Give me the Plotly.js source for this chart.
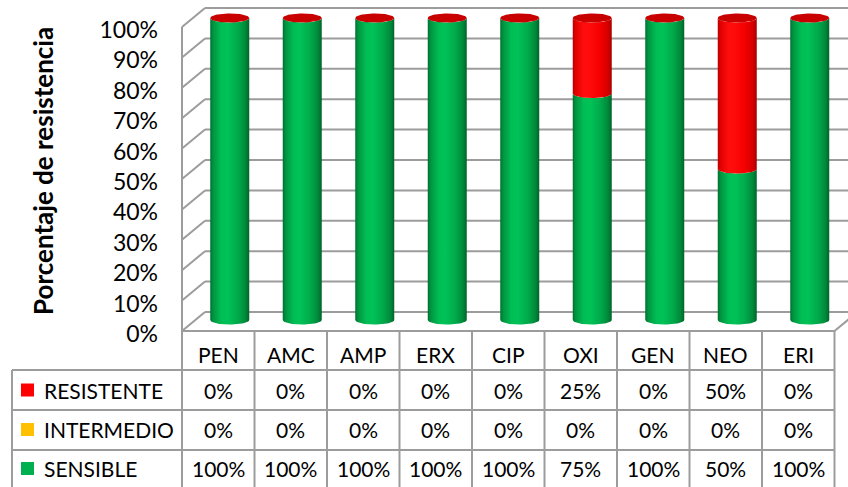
<!DOCTYPE html>
<html>
<head>
<meta charset="utf-8">
<script src="https://cdn.plot.ly/plotly-3.0.1.min.js"></script>
<style>
  html, body { margin: 0; padding: 0; background: #ffffff; }
  #chart { width: 848px; height: 487px; }
</style>
</head>
<body>
<div id="chart"></div>
<script>
// Antibiotic susceptibility, share of isolates per category
const categories = ['PEN', 'AMC', 'AMP', 'ERX', 'CIP', 'OXI', 'GEN', 'NEO', 'ERI'];
const resistente = [0, 0, 0, 0, 0, 25, 0, 50, 0];
const intermedio = [0, 0, 0, 0, 0, 0, 0, 0, 0];
const sensible   = [100, 100, 100, 100, 100, 75, 100, 50, 100];
const rowNames   = ['RESISTENTE', 'INTERMEDIO', 'SENSIBLE'];
const yTickVals  = [0, 10, 20, 30, 40, 50, 60, 70, 80, 90, 100];
const yTitle     = 'Porcentaje de resistencia';

// ---- page geometry (pixels) ----
const W = 848, H = 487;
const FONT = 'Lato, "Open Sans", sans-serif';
const GRID = '#9c9c9c';

const FRONT_X = 182;            // front-left edge of the 3D box
const DX = 23, DY = 19;         // depth offset of the back wall
const FRONT_Y0 = 331;           // front edge at 0 %
const PX_PER_UNIT = 3.04;       // wall scale (px per 1 %)
const COL_W = 72.5;             // width of one category slot / table column
const TABLE_RIGHT = FRONT_X + COL_W * categories.length;

// cylinder scale (cylinders stand mid-depth)
const CYL_X0 = FRONT_X + COL_W / 2 + DX / 2;   // centre of first cylinder
const CYL_Y0 = 320;                            // 0 % at cylinder axis
const CYL_SCALE = 3.02;
const CYL_HALF_W = 19.5 / COL_W;               // in category units
const CAP_B = 4.6 / CYL_SCALE;                 // ellipse half-height in % units

const xRange = [(0 - CYL_X0) / COL_W, (W - CYL_X0) / COL_W];
const yRange = [(CYL_Y0 - H) / CYL_SCALE, CYL_Y0 / CYL_SCALE];

// tick labels sit on their own axis aligned with the front edge
const LABEL_Y0 = 334;
const y2Range = [(LABEL_Y0 - H) / PX_PER_UNIT, LABEL_Y0 / PX_PER_UNIT];

const px = x => x / W;
const py = y => 1 - y / H;

// ---- colours ----
const seriesColor = { RESISTENTE: '#ff0000', INTERMEDIO: '#ffc000', SENSIBLE: '#00b050' };
const bodyScale = {
  SENSIBLE: [[0, '#006e30'], [0.07, '#00933f'], [0.28, '#00bd54'], [0.45, '#00c257'],
             [0.7, '#00ab4b'], [0.9, '#008a3b'], [1, '#00642a']],
  INTERMEDIO: [[0, '#b38600'], [0.3, '#ffc61a'], [0.5, '#ffc000'], [1, '#a87e00']],
  RESISTENTE: [[0, '#b80000'], [0.07, '#e00000'], [0.28, '#ff0e0e'], [0.45, '#ff0a0a'],
               [0.7, '#f40000'], [0.9, '#d40000'], [1, '#a80000']]
};
const capColor = { SENSIBLE: '#008a3c', INTERMEDIO: '#c89600', RESISTENTE: '#c80000' };

// ---- cylinder outlines ----
const N = 28;
function segmentPath(c, v0, v1) {
  const xs = [], ys = [];
  for (let k = 0; k <= N; k++) {            // bottom front arc, left -> right
    const t = Math.PI + Math.PI * k / N;
    xs.push(c + CYL_HALF_W * Math.cos(t)); ys.push(v0 + CAP_B * Math.sin(t));
  }
  for (let k = 0; k <= N; k++) {            // top front arc, right -> left
    const t = 2 * Math.PI - Math.PI * k / N;
    xs.push(c + CYL_HALF_W * Math.cos(t)); ys.push(v1 + CAP_B * Math.sin(t));
  }
  xs.push(xs[0]); ys.push(ys[0]);
  return { xs, ys };
}
function capPath(c, v) {
  const xs = [], ys = [];
  for (let k = 0; k <= 2 * N; k++) {
    const t = 2 * Math.PI * k / (2 * N);
    xs.push(c + CYL_HALF_W * Math.cos(t)); ys.push(v + CAP_B * Math.sin(t));
  }
  return { xs, ys };
}

const stack = [
  { name: 'SENSIBLE', values: sensible },
  { name: 'INTERMEDIO', values: intermedio },
  { name: 'RESISTENTE', values: resistente }
];

const traces = [];
categories.forEach((cat, i) => {
  let base = 0;
  const topName = stack[stack.length - 1].name;
  stack.forEach(s => {
    const v = s.values[i];
    if (v > 0) {
      const p = segmentPath(i, base, base + v);
      traces.push({
        type: 'scatter', mode: 'lines', x: p.xs, y: p.ys,
        fill: 'toself', line: { width: 0, color: 'rgba(0,0,0,0)' },
        fillgradient: { type: 'horizontal', colorscale: bodyScale[s.name] },
        hoverinfo: 'skip', showlegend: false, name: s.name + ' ' + cat
      });
      base += v;
    }
  });
  const cp = capPath(i, base);
  traces.push({
    type: 'scatter', mode: 'lines', x: cp.xs, y: cp.ys,
    fill: 'toself', line: { width: 0, color: 'rgba(0,0,0,0)' },
    fillcolor: capColor[topName], hoverinfo: 'skip', showlegend: false
  });
});

// ---- walls, floor and data table ----
const shapes = [];
const line = (x0, y0, x1, y1) => shapes.push({
  type: 'line', xref: 'paper', yref: 'paper', layer: 'below',
  x0: px(x0), y0: py(y0), x1: px(x1), y1: py(y1),
  line: { color: GRID, width: 2 }
});

yTickVals.forEach(k => {
  const yf = FRONT_Y0 - PX_PER_UNIT * k;
  const yb = yf - DY;
  line(FRONT_X, yf, FRONT_X + DX, yb);            // side wall
  line(FRONT_X + DX, yb, W + 10, yb);             // back wall
});
line(FRONT_X, FRONT_Y0 - PX_PER_UNIT * 100, FRONT_X, FRONT_Y0);   // front-left edge
line(FRONT_X, FRONT_Y0, TABLE_RIGHT, FRONT_Y0);                   // floor front edge
line(TABLE_RIGHT, FRONT_Y0, TABLE_RIGHT + DX, FRONT_Y0 - DY);     // floor right edge

// table grid
const TABLE_LEFT = 12;
const ROW_TOPS = [370, 410, 450];
for (let j = 0; j <= categories.length; j++) {
  line(FRONT_X + COL_W * j, FRONT_Y0, FRONT_X + COL_W * j, H + 2);
}
ROW_TOPS.forEach(y => line(TABLE_LEFT, y, TABLE_RIGHT, y));
line(TABLE_LEFT, ROW_TOPS[0], TABLE_LEFT, H + 2);

// legend keys
const rowCenters = [390, 429.5, 468.5];
rowNames.forEach((r, idx) => {
  shapes.push({
    type: 'rect', xref: 'paper', yref: 'paper', layer: 'above',
    x0: px(21), x1: px(34), y0: py(rowCenters[idx] - 6.5), y1: py(rowCenters[idx] + 6.5),
    fillcolor: seriesColor[r], line: { width: 0 }
  });
});

const annotations = [];
const txt = (x, y, text, anchor, extra) => annotations.push(Object.assign({
  xref: 'paper', yref: 'paper', x: px(x), y: py(y), text: text,
  xanchor: anchor || 'center', yanchor: 'middle', showarrow: false,
  font: { family: FONT, size: 21, color: '#000000' }
}, extra || {}));

const rowValues = [resistente, intermedio, sensible];
categories.forEach((cat, i) => {
  const cx = FRONT_X + COL_W * (i + 0.5);
  txt(cx, 354, cat);
  rowValues.forEach((vals, r) => txt(cx, rowCenters[r], vals[i] + '%'));
});
rowNames.forEach((r, idx) => txt(42, rowCenters[idx], r, 'left'));

txt(43, 171, '<b>' + yTitle + '</b>', 'center', { textangle: -90,
  font: { family: FONT, size: 26, color: '#000000' } });

const layout = {
  width: W, height: H,
  margin: { l: 0, r: 0, t: 0, b: 0, pad: 0 },
  paper_bgcolor: '#ffffff', plot_bgcolor: 'rgba(0,0,0,0)',
  showlegend: false,
  xaxis: { range: xRange, visible: false, fixedrange: true },
  yaxis: { range: yRange, visible: false, fixedrange: true },
  yaxis2: {
    overlaying: 'y', anchor: 'free', position: px(158), side: 'left',
    range: y2Range, tickmode: 'array', tickvals: yTickVals,
    ticktext: yTickVals.map(v => v + '%'),
    showgrid: false, zeroline: false, showline: false, ticks: '',
    tickfont: { family: FONT, size: 23, color: '#000000' }, fixedrange: true
  },
  shapes: shapes,
  annotations: annotations
};

// invisible trace that brings yaxis2 onto the page
traces.push({ type: 'scatter', x: [0], y: [0], yaxis: 'y2', mode: 'markers',
  marker: { opacity: 0 }, hoverinfo: 'skip', showlegend: false });

Plotly.newPlot('chart', traces, layout, { staticPlot: true, displayModeBar: false });
</script>
</body>
</html>
